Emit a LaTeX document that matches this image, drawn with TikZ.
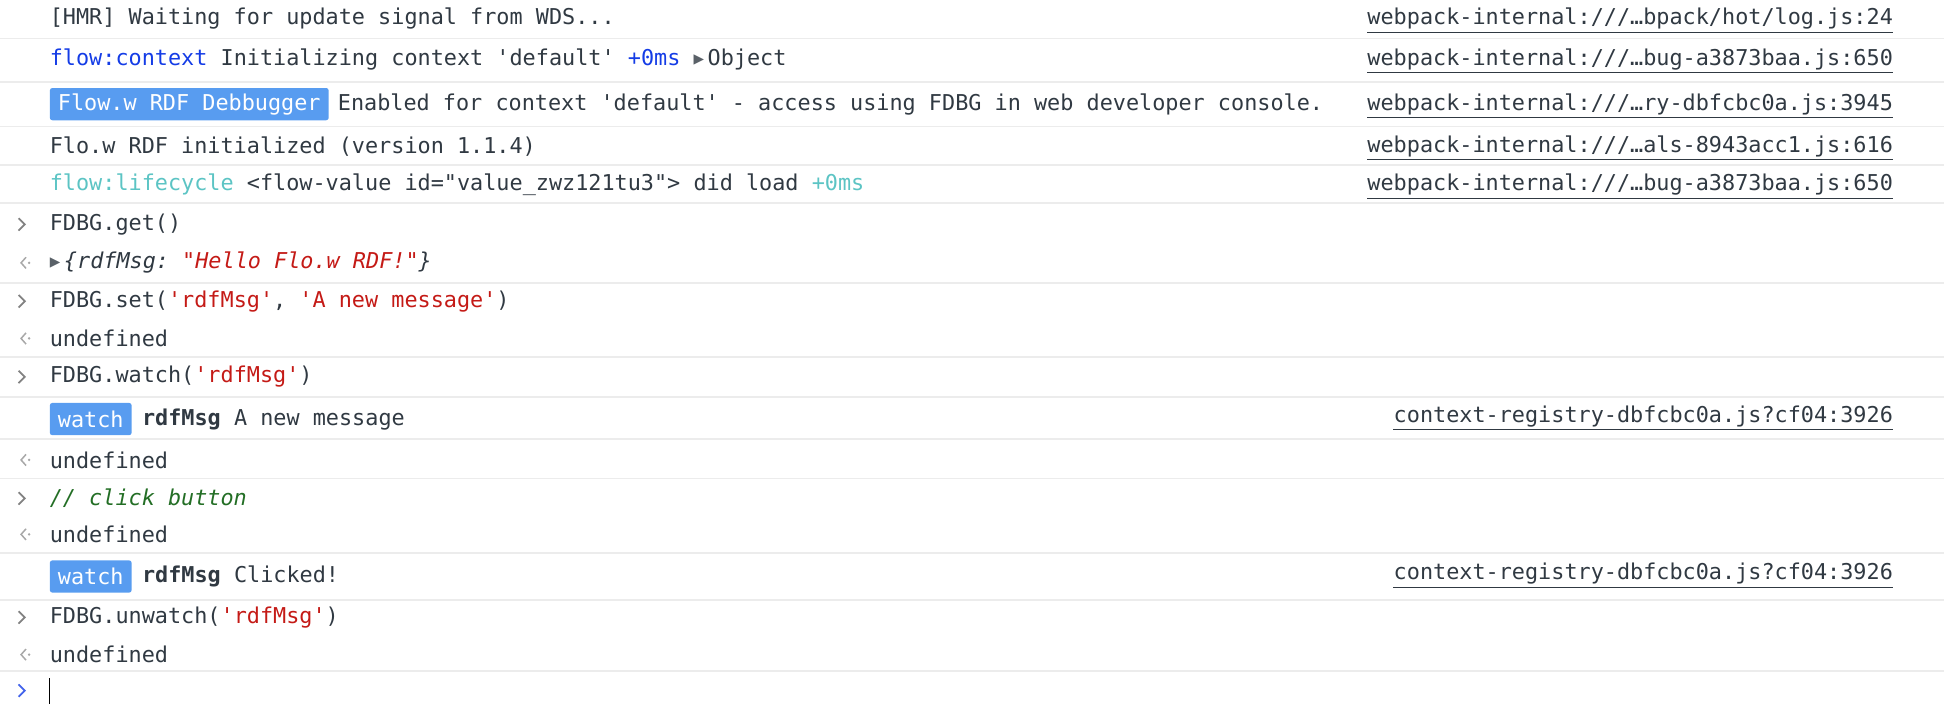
\documentclass[tikz,border=0pt]{standalone}
\usepackage{fontspec}
\setmonofont{DejaVu Sans Mono}
\usepackage{tikz}
\usetikzlibrary{positioning}
\definecolor{txtgray}{RGB}{48,57,66}
\definecolor{ctxblue}{RGB}{20,60,230}
\definecolor{lifeteal}{RGB}{92,196,196}
\definecolor{strred}{RGB}{196,26,22}
\definecolor{cmtgreen}{RGB}{35,110,37}
\definecolor{badgeblue}{RGB}{88,156,240}
\definecolor{sepgray}{RGB}{236,236,236}
\definecolor{arrgray}{RGB}{130,130,130}
\newcommand{\objtri}{\textcolor{txtgray!80}{\raisebox{1pt}{\scalebox{0.8}{▶}}}}

\begin{document}
\begin{tikzpicture}[x = 1pt, y = -1pt,
                    txt/.style = {anchor = west, inner sep = 0pt, text = txtgray,
                                  font = \ttfamily\fontsize{17.6}{20}\selectfont},
                    link/.style = {txt, anchor = east},
                    badge/.style = {txt, fill = badgeblue, text = white, rounded corners = 2pt,
                                    inner xsep = 6.5pt, minimum height = 26pt},
                    sep/.style = {sepgray, line width = 1.5pt},
                    under/.style = {txtgray, line width = 0.8pt},
                    prompt/.style = {arrgray, line width = 1.4pt},
                    result/.style = {arrgray!70, line width = 1.2pt}]
  \useasboundingbox (0,0) rectangle (1568,578);

  % separators
  \foreach \y in {31, 66, 102, 133, 164, 228, 288, 320, 354, 386, 446, 484, 541}
    \draw [sep] (0,\y) -- (1568,\y);

  % log rows
  \node [txt] (r1) at (40,15) {[HMR] Waiting for update signal from WDS...};
  \node [txt] (r2) at (40,48) {\textcolor{ctxblue}{flow:context} Initializing context 'default' \textcolor{ctxblue}{+0ms} \objtri\,Object};
  \node [badge, anchor = west] (b1) at (40,84) {Flow.w RDF Debbugger};
  \node [txt, right = 7pt of b1] (r3) {Enabled for context 'default' - access using FDBG in web developer console.};
  \node [txt] (r4) at (40,118) {Flo.w RDF initialized (version 1.1.4)};
  \node [txt] (r5) at (40,149) {\textcolor{lifeteal}{flow:lifecycle} <flow-value id="value\_zwz121tu3"> did load \textcolor{lifeteal}{+0ms}};

  \node [link] (l1) at (1527,15) {webpack-internal:///…bpack/hot/log.js:24};
  \node [link] (l2) at (1527,48) {webpack-internal:///…bug-a3873baa.js:650};
  \node [link] (l3) at (1527,84) {webpack-internal:///…ry-dbfcbc0a.js:3945};
  \node [link] (l4) at (1527,118) {webpack-internal:///…als-8943acc1.js:616};
  \node [link] (l5) at (1527,149) {webpack-internal:///…bug-a3873baa.js:650};

  % console input / output
  \node [txt] (c1) at (40,181) {FDBG.get()};
  \node [txt] (o1) at (40,212) {\objtri\,\textit{\{rdfMsg: \textcolor{strred}{"Hello Flo.w RDF!"}\}}};
  \node [txt] (c2) at (40,243) {FDBG.set(\textcolor{strred}{'rdfMsg'}, \textcolor{strred}{'A new message'})};
  \node [txt] (o2) at (40,273) {undefined};
  \node [txt] (c3) at (40,304) {FDBG.watch(\textcolor{strred}{'rdfMsg'})};
  \node [badge] (w1) at (40,338) {watch};
  \node [txt, right = 8pt of w1] (m1) {\textbf{rdfMsg} A new message};
  \node [txt] (o3) at (40,371) {undefined};
  \node [txt] (c4) at (40,402) {\textcolor{cmtgreen}{\textit{// click button}}};
  \node [txt] (o4) at (40,431) {undefined};
  \node [badge] (w2) at (40,465) {watch};
  \node [txt, right = 8pt of w2] (m2) {\textbf{rdfMsg} Clicked!};
  \node [txt] (c5) at (40,498) {FDBG.unwatch(\textcolor{strred}{'rdfMsg'})};
  \node [txt] (o5) at (40,528) {undefined};

  \node [link] (l6) at (1527,336) {context-registry-dbfcbc0a.js?cf04:3926};
  \node [link] (l7) at (1527,463) {context-registry-dbfcbc0a.js?cf04:3926};

  % underlines of the links
  \foreach \l in {l1, l2, l3, l4, l5, l6, l7}
    \draw [under] ([yshift = -2pt]\l.south west) -- ([yshift = -2pt]\l.south east);

  % prompt and result marks
  \foreach \y in {181, 243, 304, 402, 498}
    \draw [prompt] (15,\y-5) -- (20,\y) -- (15,\y+5);
  \foreach \y in {212, 273, 371, 431, 528}
  {
    \draw [result] (21,\y-4.5) -- (17,\y) -- (21,\y+4.5);
    \fill [arrgray!70] (23.5,\y) circle (1.1pt);
  }
  \draw [prompt, ctxblue!80] (15,552) -- (20,557) -- (15,562);
  \draw [black, line width = 1pt] (40,547) -- (40,568);
\end{tikzpicture}
\end{document}
